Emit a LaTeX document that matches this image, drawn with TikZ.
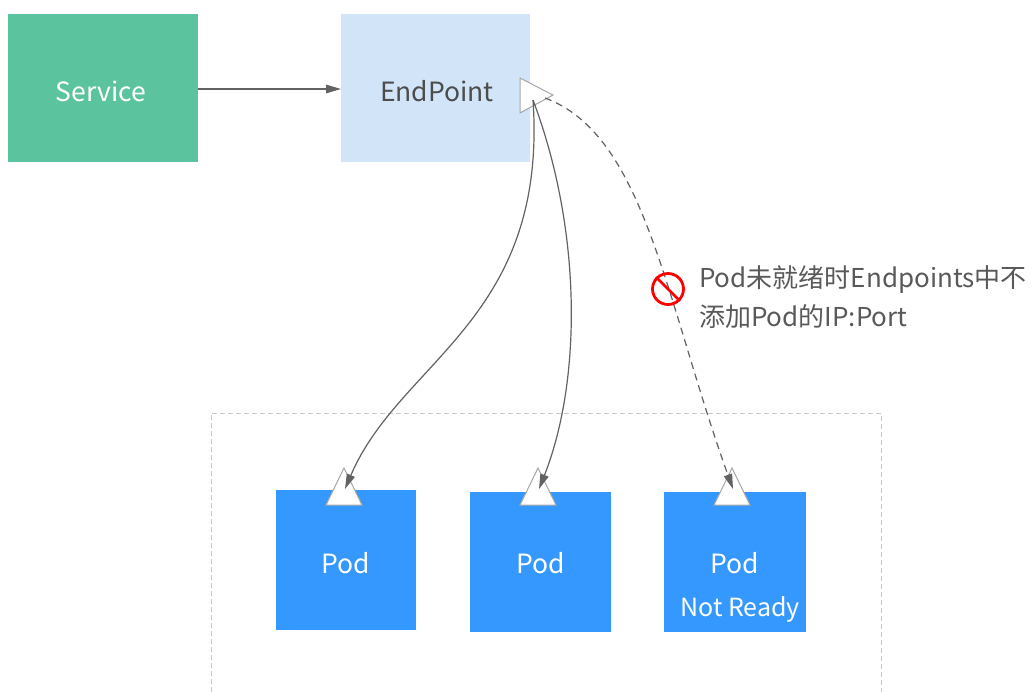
\documentclass[tikz,border=0pt]{standalone}
\usepackage{fontspec}
\setmainfont{Noto Sans CJK SC}
\usetikzlibrary{arrows.meta}
\definecolor{svcgreen}{HTML}{5BC49F}
\definecolor{eplight}{HTML}{D2E5F8}
\definecolor{podblue}{HTML}{3598FE}
\definecolor{linegray}{HTML}{626262}
\definecolor{textgray}{HTML}{595959}
\definecolor{boxgray}{HTML}{C8C8C8}
\tikzset{
  boxtext/.style={font=\fontsize{26.5}{30}\selectfont},
  conn/.style={draw=linegray, line width=1.2pt, -{Triangle[length=15pt,width=8.5pt]}},
  port/.style={draw=gray!70, fill=white, line width=1pt},
}
\begin{document}
\begin{tikzpicture}[x=1pt,y=-1pt]
\useasboundingbox (0,0) rectangle (1035,691);
\clip (0,0) rectangle (1035,691);
% boxes
\fill[svcgreen] (8,14) rectangle (198,162);
\node[boxtext, text=white] (svc) at (101,91) {Service};
\coordinate (svcR) at (198,89);
\fill[eplight] (341,14) rectangle (530,162);
\node[boxtext, text=textgray!85!black] (ep) at (437,91) {EndPoint};
\coordinate (epL) at (341,89);
\draw[conn] (svcR) -- (epL);
% container
\draw[boxgray, line width=1pt, dash pattern=on 5pt off 3pt] (211,700) -- (211,413) -- (881,413) -- (881,700);
% pods
\fill[podblue] (276,490) rectangle (416,630);
\node[boxtext, text=white] (p1) at (346,563) {Pod};
\fill[podblue] (470,492) rectangle (611,632);
\node[boxtext, text=white] (p2) at (541,563) {Pod};
\fill[podblue] (664,492) rectangle (806,632);
\node[boxtext, text=white] (p3) at (735,563) {Pod};
\node[font=\fontsize{25}{28}\selectfont, text=white] (p3b) at (740,609) {Not Ready};
% port triangles
\draw[port] (520,78) -- (520,113) -- (553,95) -- cycle;
\coordinate (epP) at (533,100);
\coordinate (epQ) at (545,98);
\foreach \n/\x in {t1/344, t2/538, t3/732}{
  \draw[port] (\x-18,505) -- (\x,468) -- (\x+18,505) -- cycle;
  \coordinate (\n) at (\x+1,489);
}
% connectors
\draw[conn] (epP) .. controls (548,320) and (400,360) .. (t1);
\draw[conn] (epP) .. controls (582,230) and (582,380) .. (t2);
\draw[conn, dash pattern=on 7pt off 5pt] (epQ) .. controls (645,135) and (665,300) .. (t3);
% no-entry sign
\node[circle, draw=red, line width=2.8pt, minimum size=31pt, inner sep=0pt] (no) at (668,289) {};
\draw[red, line width=2.8pt] (no.135) -- (no.-45);
% label
\node[anchor=west, align=left, text=textgray, font=\fontsize{26}{39}\selectfont, inner sep=0pt] (lbl) at (699,297) {Pod未就绪时Endpoints中不\\添加Pod的IP:Port};
\end{tikzpicture}
\end{document}
